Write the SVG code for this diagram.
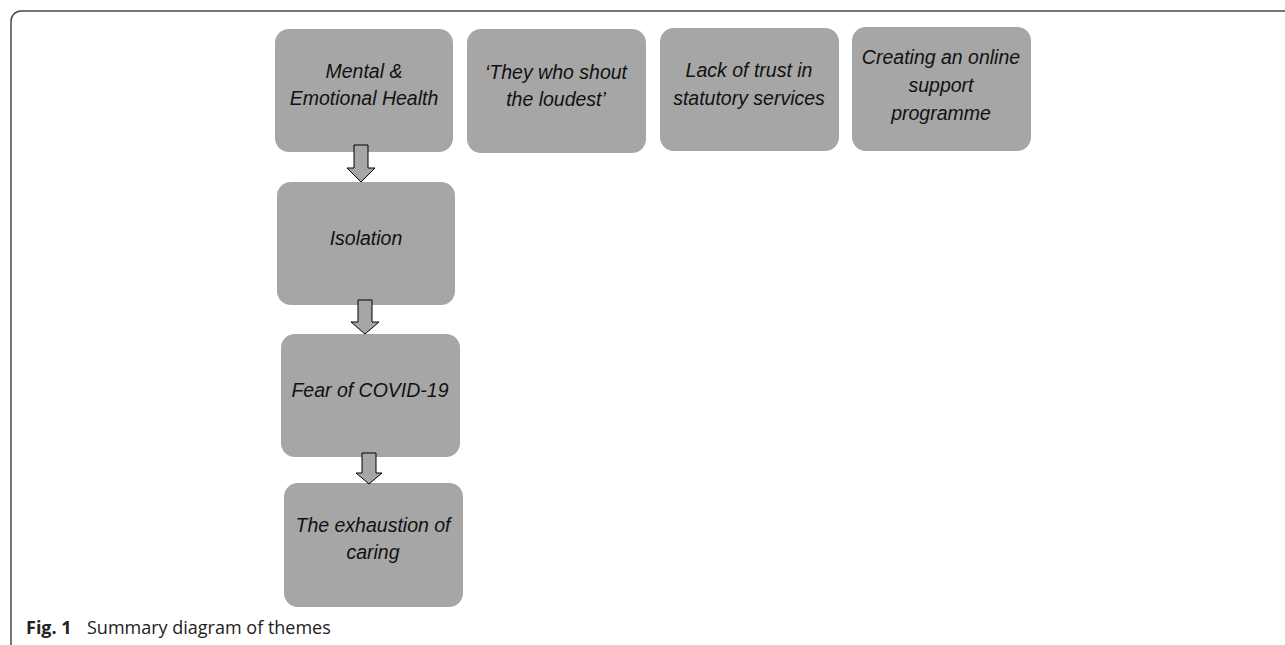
<svg xmlns="http://www.w3.org/2000/svg" width="1285" height="645" viewBox="0 0 1285 645">
<style>
.box{fill:#a6a6a6}
.lbl{font-family:"Liberation Sans",Arial,sans-serif;font-style:italic;font-size:19.5px;fill:#111;text-anchor:middle}
.arr{fill:#a6a6a6;stroke:#000;stroke-width:1}
.frame{fill:none;stroke:#4a4a4a;stroke-width:1.5}
.cap{font-family:"Open Sans","Noto Sans",sans-serif;font-size:18px;fill:#222}
</style>
<rect width="1285" height="645" fill="#fff"/>
<path class="frame" d="M11 645 V21 A10 10 0 0 1 21 11 H1285"/>
<g id="n1"><rect class="box" x="275" y="29" width="178" height="123" rx="14"/><text class="lbl" x="364" y="78">Mental &amp;</text><text class="lbl" x="364" y="105">Emotional Health</text></g>
<g id="n2"><rect class="box" x="467" y="29" width="179" height="124" rx="14"/><text class="lbl" x="556" y="79">‘They who shout</text><text class="lbl" x="556" y="106">the loudest’</text></g>
<g id="n3"><rect class="box" x="660" y="28" width="179" height="123" rx="14"/><text class="lbl" x="749" y="77">Lack of trust in</text><text class="lbl" x="749" y="105">statutory services</text></g>
<g id="n4"><rect class="box" x="852" y="27" width="179" height="124" rx="14"/><text class="lbl" x="941" y="64">Creating an online</text><text class="lbl" x="941" y="92">support</text><text class="lbl" x="941" y="120">programme</text></g>
<g id="n5"><rect class="box" x="277" y="182" width="178" height="123" rx="14"/><text class="lbl" x="366" y="245">Isolation</text></g>
<g id="n6"><rect class="box" x="281" y="334" width="179" height="123" rx="14"/><text class="lbl" x="370" y="397">Fear of COVID-19</text></g>
<g id="n7"><rect class="box" x="284" y="483" width="179" height="124" rx="14"/><text class="lbl" x="373" y="532">The exhaustion of</text><text class="lbl" x="373" y="559">caring</text></g>
<g id="connectors">
<polygon class="arr" points="354,145 368,145 368,168 375,168 361,182 347,168 354,168"/>
<polygon class="arr" points="358,300 372,300 372,322 379,322 365,334 351,322 358,322"/>
<polygon class="arr" points="362,453 376,453 376,473 382,473 369,484 356,473 362,473"/>
</g>
<text class="cap" x="26" y="634"><tspan font-weight="bold">Fig. 1</tspan><tspan x="87">Summary diagram of themes</tspan></text>
</svg>
